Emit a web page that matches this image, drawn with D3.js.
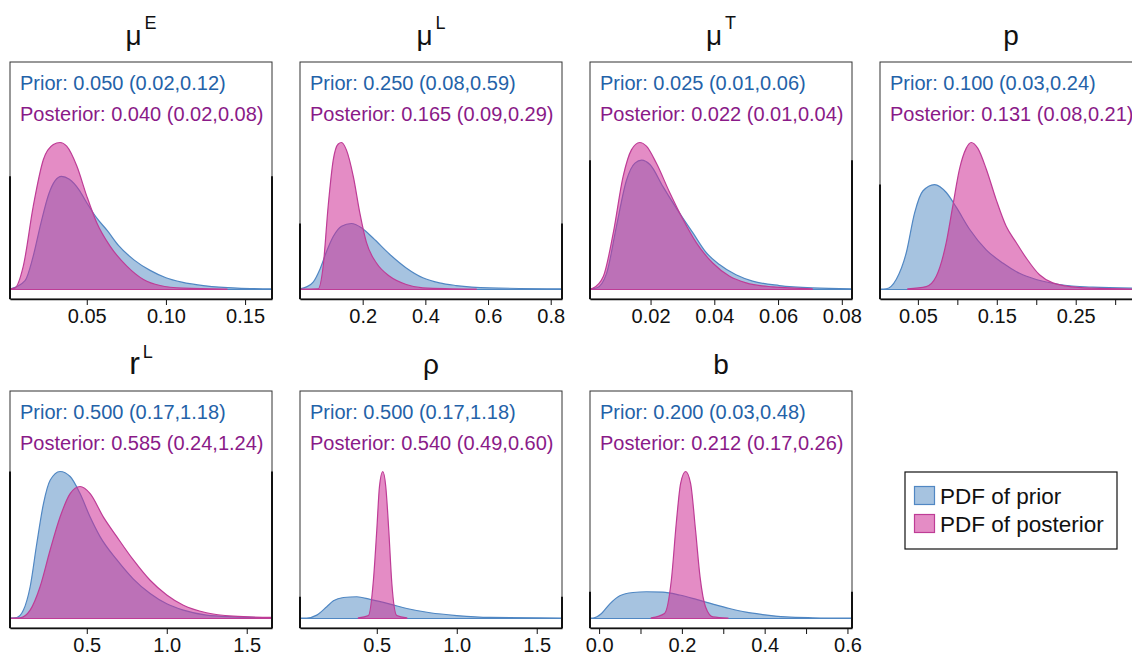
<!DOCTYPE html>
<html>
<head>
<meta charset="utf-8">
<script src="https://cdn.jsdelivr.net/npm/d3@7"></script>
<style>
  body { margin: 0; background: #fff; }
  text { font-family: Arial, "Liberation Sans", Helvetica, sans-serif; }
</style>
</head>
<body>
<div id="chart"></div>
<script>
// panel labels and annotations
var titleMain = ["\u03bc", "\u03bc", "\u03bc", "p", "r", "\u03c1", "b"];
var titleSup = ["E", "L", "T", "", "L", "", ""];
var priorText = ["Prior: 0.050 (0.02,0.12)", "Prior: 0.250 (0.08,0.59)", "Prior: 0.025 (0.01,0.06)",
                 "Prior: 0.100 (0.03,0.24)", "Prior: 0.500 (0.17,1.18)", "Prior: 0.500 (0.17,1.18)",
                 "Prior: 0.200 (0.03,0.48)"];
var postText = ["Posterior: 0.040 (0.02,0.08)", "Posterior: 0.165 (0.09,0.29)", "Posterior: 0.022 (0.01,0.04)",
                "Posterior: 0.131 (0.08,0.21)", "Posterior: 0.585 (0.24,1.24)", "Posterior: 0.540 (0.49,0.60)",
                "Posterior: 0.212 (0.17,0.26)"];

// x axes
var xDomains = [[0.0015, 0.167], [0, 0.836], [0.001, 0.0832], [0.002, 0.334],
                [0.02, 1.658], [0.02, 1.658], [-0.022, 0.611]];
var majorTicks = [[0.05, 0.10, 0.15], [0.2, 0.4, 0.6, 0.8], [0.02, 0.04, 0.06, 0.08], [0.05, 0.15, 0.25],
                  [0.5, 1.0, 1.5], [0.5, 1.0, 1.5], [0.0, 0.2, 0.4, 0.6]];
var minorTicks = [[], [], [], [0.10, 0.20, 0.30], [], [], [0.1, 0.3, 0.5]];
var tickFormats = [".2f", ".1f", ".2f", ".2f", ".1f", ".1f", ".1f"];

// densities: [value, density relative to panel max]
var muE_prior = [[0.002,0.005],[0.011,0.06],[0.016,0.22],[0.021,0.45],[0.026,0.65],[0.030,0.74],[0.034,0.77],
  [0.039,0.75],[0.045,0.68],[0.050,0.59],[0.056,0.49],[0.063,0.40],[0.070,0.30],[0.080,0.20],[0.090,0.13],
  [0.100,0.08],[0.110,0.05],[0.125,0.025],[0.145,0.01],[0.167,0.005]];
var muE_post = [[0.002,0.004],[0.0047,0.011],[0.0099,0.159],[0.0162,0.567],[0.0226,0.884],[0.0289,0.986],[0.0331,1.0],
  [0.0373,0.975],[0.0437,0.84],[0.050,0.635],[0.0563,0.454],[0.0647,0.295],[0.0753,0.159],[0.0858,0.068],
  [0.0963,0.027],[0.111,0.009],[0.1385,0.002]];

var muL_prior = [[0.0,0.005],[0.021,0.018],[0.042,0.05],[0.064,0.14],[0.085,0.26],[0.106,0.36],[0.1325,0.43],
  [0.164,0.449],[0.196,0.42],[0.233,0.35],[0.286,0.24],[0.339,0.147],[0.392,0.08],[0.445,0.045],[0.498,0.027],
  [0.604,0.011],[0.836,0.005]];
var muL_post = [[0.0,0.003],[0.058,0.005],[0.074,0.16],[0.090,0.57],[0.106,0.88],[0.122,0.99],[0.1325,1.0],
  [0.148,0.95],[0.170,0.77],[0.191,0.52],[0.212,0.32],[0.244,0.18],[0.286,0.09],[0.339,0.034],[0.392,0.011],
  [0.562,0.002]];

var muT_prior = [[0.001,0.005],[0.003,0.01],[0.0062,0.11],[0.0093,0.43],[0.0124,0.74],[0.0151,0.86],[0.0172,0.88],
  [0.0198,0.85],[0.0239,0.70],[0.0291,0.52],[0.0333,0.385],[0.0375,0.25],[0.0416,0.17],[0.0468,0.10],
  [0.0520,0.057],[0.0604,0.027],[0.0708,0.011],[0.0832,0.005]];
var muT_post = [[0.001,0.004],[0.002,0.01],[0.0052,0.09],[0.0083,0.385],[0.0114,0.77],[0.0140,0.95],[0.0166,1.0],
  [0.0187,0.975],[0.0218,0.86],[0.026,0.66],[0.0302,0.476],[0.0344,0.317],[0.0395,0.18],[0.0448,0.09],
  [0.050,0.045],[0.0583,0.018],[0.0707,0.005]];

var p_prior = [[0.002,0.003],[0.010,0.005],[0.0227,0.07],[0.0353,0.25],[0.0458,0.52],[0.0563,0.67],[0.0711,0.714],
  [0.086,0.66],[0.0986,0.56],[0.1155,0.41],[0.1366,0.27],[0.1576,0.18],[0.1788,0.11],[0.1999,0.068],
  [0.2294,0.034],[0.2716,0.016],[0.334,0.008]];
var p_post = [[0.0373,0.005],[0.0606,0.02],[0.0733,0.09],[0.086,0.32],[0.0943,0.57],[0.1028,0.82],[0.1112,0.96],
  [0.1176,1.0],[0.126,0.96],[0.1366,0.82],[0.1493,0.61],[0.1619,0.43],[0.1746,0.32],[0.1872,0.215],
  [0.2041,0.10],[0.2209,0.045],[0.2463,0.018],[0.28,0.007],[0.334,0.003]];

var rL_prior = [[0.02,0.003],[0.0625,0.007],[0.104,0.057],[0.146,0.216],[0.1875,0.51],[0.229,0.78],[0.271,0.94],
  [0.333,1.0],[0.396,0.966],[0.458,0.85],[0.521,0.69],[0.583,0.557],[0.6875,0.40],[0.79,0.27],[0.896,0.17],
  [1.0,0.10],[1.104,0.057],[1.248,0.023],[1.416,0.011],[1.658,0.005]];
var rL_post = [[0.02,0.002],[0.083,0.005],[0.146,0.057],[0.208,0.216],[0.271,0.466],[0.333,0.69],[0.396,0.85],
  [0.458,0.898],[0.521,0.85],[0.604,0.69],[0.6875,0.557],[0.79,0.40],[0.896,0.26],[1.0,0.16],[1.104,0.09],
  [1.248,0.039],[1.416,0.016],[1.658,0.007]];

var rho_prior = [[0.02,0.002],[0.0625,0.003],[0.125,0.023],[0.1875,0.08],[0.229,0.12],[0.292,0.143],[0.375,0.148],
  [0.458,0.13],[0.583,0.098],[0.6875,0.068],[0.833,0.039],[1.0,0.02],[1.208,0.007],[1.658,0.003]];
var rho_post = [[0.385,0.004],[0.448,0.02],[0.479,0.26],[0.500,0.60],[0.517,0.90],[0.5375,1.0],[0.556,0.90],
  [0.575,0.60],[0.594,0.24],[0.625,0.02],[0.6875,0.004]];

var b_prior = [[-0.022,0.002],[-0.0145,0.003],[0.0058,0.034],[0.026,0.10],[0.050,0.155],[0.082,0.177],
  [0.114,0.182],[0.154,0.18],[0.1945,0.16],[0.235,0.13],[0.275,0.098],[0.315,0.068],[0.355,0.043],
  [0.395,0.027],[0.452,0.011],[0.516,0.005],[0.611,0.002]];
var b_post = [[0.126,0.004],[0.158,0.034],[0.1745,0.26],[0.1865,0.65],[0.197,0.92],[0.209,1.0],[0.221,0.92],
  [0.233,0.60],[0.244,0.28],[0.257,0.08],[0.275,0.011],[0.311,0.003]];

var priors = [muE_prior, muL_prior, muT_prior, p_prior, rL_prior, rho_prior, b_prior];
var posts = [muE_post, muL_post, muT_post, p_post, rL_post, rho_post, b_post];

var legendLabels = ["PDF of prior", "PDF of posterior"];

var W = 1132, H = 655;
var boxW = 262, boxH = 237;
var colStep = 290;
var rowTops = [62, 391];

var priorFill = "rgba(70,130,190,0.48)", priorStroke = "rgb(80,135,195)";
var postFill = "rgba(205,45,150,0.55)", postStroke = "rgb(190,60,150)";
var priorColor = "#2462a8", postColor = "#8a1a88";

var svg = d3.select("#chart").append("svg")
    .attr("width", W)
    .attr("height", H);

var defs = svg.append("defs");

function drawPanel(i) {
    var col = i % 4, row = Math.floor(i / 4);
    var x0 = 10 + col * colStep, y0 = rowTops[row];
    var g = svg.append("g").attr("transform", "translate(" + x0 + "," + y0 + ")");

    var x = d3.scaleLinear().domain(xDomains[i]).range([0, boxW]);
    var base = boxH - 9.5;
    var y = d3.scaleLinear().domain([0, 1]).range([base, base - 147]);

    defs.append("clipPath").attr("id", "clip" + i)
        .append("rect").attr("width", boxW).attr("height", boxH);

    var area = d3.area()
        .x(function(d) { return x(d[0]); })
        .y0(base)
        .y1(function(d) { return y(d[1]); })
        .curve(d3.curveMonotoneX);

    var plot = g.append("g").attr("clip-path", "url(#clip" + i + ")");
    plot.append("path")
        .attr("d", area(priors[i]))
        .attr("fill", priorFill)
        .attr("stroke", priorStroke)
        .attr("stroke-width", 1.2);
    plot.append("path")
        .attr("d", area(posts[i]))
        .attr("fill", postFill)
        .attr("stroke", postStroke)
        .attr("stroke-width", 1.2);

    // frame
    g.append("rect")
        .attr("width", boxW).attr("height", boxH)
        .attr("fill", "none").attr("stroke", "#333").attr("stroke-width", 1);
    var peak = y(d3.max(priors[i], function(d) { return d[1]; }));
    g.append("line").attr("x1", 0).attr("x2", 0).attr("y1", peak).attr("y2", boxH)
        .attr("stroke", "#111").attr("stroke-width", 2);
    g.append("line").attr("x1", boxW).attr("x2", boxW).attr("y1", peak).attr("y2", boxH)
        .attr("stroke", "#111").attr("stroke-width", 2);

    // x axis
    var ax = g.append("g").attr("transform", "translate(0," + boxH + ")")
        .call(d3.axisBottom(x).tickValues(majorTicks[i]).tickFormat(d3.format(tickFormats[i]))
            .tickSize(6).tickSizeOuter(0).tickPadding(4));
    ax.select(".domain").attr("stroke", "#111").attr("stroke-width", 1.5);
    ax.selectAll(".tick line").attr("stroke", "#111");
    ax.selectAll("text").attr("font-size", 20).attr("fill", "#111");
    if (minorTicks[i].length) {
        g.append("g").attr("transform", "translate(0," + boxH + ")")
            .call(d3.axisBottom(x).tickValues(minorTicks[i]).tickFormat("").tickSize(6).tickSizeOuter(0))
            .call(function(s) { s.select(".domain").remove(); s.selectAll("line").attr("stroke", "#111"); });
    }

    // annotations
    g.append("text").attr("x", 10).attr("y", 28)
        .attr("font-size", 20).attr("fill", priorColor).text(priorText[i]);
    g.append("text").attr("x", 10).attr("y", 59)
        .attr("font-size", 20).attr("fill", postColor).text(postText[i]);

    // title
    var t = g.append("text").attr("x", boxW / 2).attr("y", -17)
        .attr("text-anchor", "middle").attr("font-size", titleMain[i] === "r" ? 32 : 28).attr("fill", "#111");
    t.append("tspan").text(titleMain[i]);
    if (titleSup[i]) {
        t.append("tspan").attr("dx", 3).attr("dy", -16).attr("font-size", 18).text(titleSup[i]);
    }
}

for (var i = 0; i < 7; i++) drawPanel(i);

// legend
var leg = svg.append("g").attr("transform", "translate(905,472)");
leg.append("rect").attr("width", 212).attr("height", 77)
    .attr("fill", "#fff").attr("stroke", "#111").attr("stroke-width", 1.2);
var legFill = [priorFill, postFill], legStroke = [priorStroke, postStroke];
legendLabels.forEach(function(lab, k) {
    leg.append("rect").attr("x", 9.5).attr("y", 14.5 + k * 28).attr("width", 20).attr("height", 18)
        .attr("fill", legFill[k]).attr("stroke", legStroke[k]).attr("stroke-width", 1.2);
    leg.append("text").attr("x", 35).attr("y", 32 + k * 28)
        .attr("font-size", 22.5).attr("fill", "#111").text(lab);
});
</script>
</body>
</html>
